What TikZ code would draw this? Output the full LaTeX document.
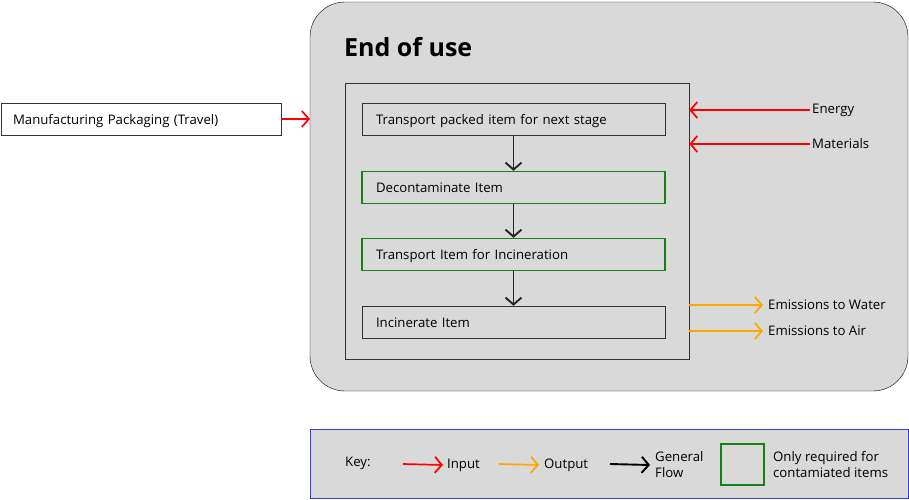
\documentclass[tikz,border=0pt]{standalone}
\usepackage{fontspec}
\setmainfont{Open Sans}
\usepackage{tikz}
\usetikzlibrary{arrows.meta}
\definecolor{panelgrey}{RGB}{217,217,217}
\definecolor{flowgreen}{RGB}{20,130,20}
\definecolor{outorange}{RGB}{255,165,0}
\definecolor{keyblue}{RGB}{60,60,230}

\tikzset{
  stage/.style={draw=black!80,fill=panelgrey,minimum width=303pt,minimum height=32pt,
    text width=275pt,align=left,inner sep=0pt,text height=11pt,text depth=1pt,
    font=\fontsize{13.2}{16}\selectfont},
  greenstage/.style={stage,draw=flowgreen,line width=1.3pt},
  label/.style={font=\fontsize{13.2}{16}\selectfont,inner sep=0pt,anchor=west},
  inarrow/.style={red,line width=1.7pt,-{Straight Barb[length=7pt,width=16pt]}},
  outarrow/.style={outorange,line width=1.7pt,-{Straight Barb[length=7pt,width=16pt]}},
  flowarrow/.style={black!85,line width=1.9pt,-{Straight Barb[length=7pt,width=16pt]}}
}

\begin{document}
\begin{tikzpicture}[x=1pt,y=-1pt]
\useasboundingbox (0,0) rectangle (909,499);

% End of use panel
\draw[fill=panelgrey,rounded corners=35pt] (310,2) rectangle (908,391);
\node[anchor=west,inner sep=0pt,font=\fontsize{25}{30}\selectfont\bfseries] (title) at (344,47) {End of use};
\node[draw=black!80,fill=panelgrey,minimum width=344pt,minimum height=276pt,inner sep=0pt] (inner) at (517,221) {};

% Stages
\node[stage] (transport) at (513.5,119) {Transport packed item for next stage};
\node[greenstage] (decon) at (513.5,187.5) {Decontaminate Item};
\node[greenstage] (incinerationtransport) at (513.5,254.5) {Transport Item for Incineration};
\node[stage] (incinerate) at (513.5,322) {Incinerate Item};

\draw[flowarrow] (transport) -- (decon);
\draw[flowarrow] (decon) -- (incinerationtransport);
\draw[flowarrow] (incinerationtransport) -- (incinerate);

% Previous stage
\node[stage,fill=white,minimum width=280pt,text width=256pt] (packaging) at (141,119) {Manufacturing Packaging (Travel)};
\coordinate (panelin) at (310,119);
\draw[inarrow] (packaging) -- (panelin);

% Inputs
\node[label] (energy) at (812,110) {Energy};
\node[label] (materials) at (812,144) {Materials};
\draw[inarrow] (energy.west) ++(-2,0) coordinate (e0) -- (e0 -| inner.east);
\draw[inarrow] (materials.west) ++(-2,0) coordinate (m0) -- (m0 -| inner.east);

% Outputs
\node[label] (water) at (768,305) {Emissions to Water};
\node[label] (air) at (768,331) {Emissions to Air};
\draw[outarrow] (water.west -| inner.east) -- ([xshift=-5pt]water.west);
\draw[outarrow] (air.west -| inner.east) -- ([xshift=-5pt]air.west);

% Key
\draw[keyblue,fill=panelgrey] (310,429) rectangle (908,498);
\node[label] (key) at (345,463) {Key:};
\coordinate (ina) at (403,464);
\node[label] (input) at (447,465) {Input};
\draw[inarrow] (ina) -- ([xshift=-4pt]input.west);
\coordinate (outa) at (499,464);
\node[label] (output) at (544,465) {Output};
\draw[outarrow] (outa) -- ([xshift=-5pt]output.west);
\coordinate (flowa) at (610,464);
\node[label,align=left] (general) at (655,465) {General\\Flow};
\draw[flowarrow,black] (flowa) -- ([xshift=-5pt]general.west);
\node[draw=flowgreen,line width=1.1pt,minimum width=43pt,minimum height=41pt,inner sep=0pt] (greenkey) at (742.5,464.5) {};
\node[label,align=left] (contam) at (773,465) {Only required for\\contamiated items};
\end{tikzpicture}
\end{document}
